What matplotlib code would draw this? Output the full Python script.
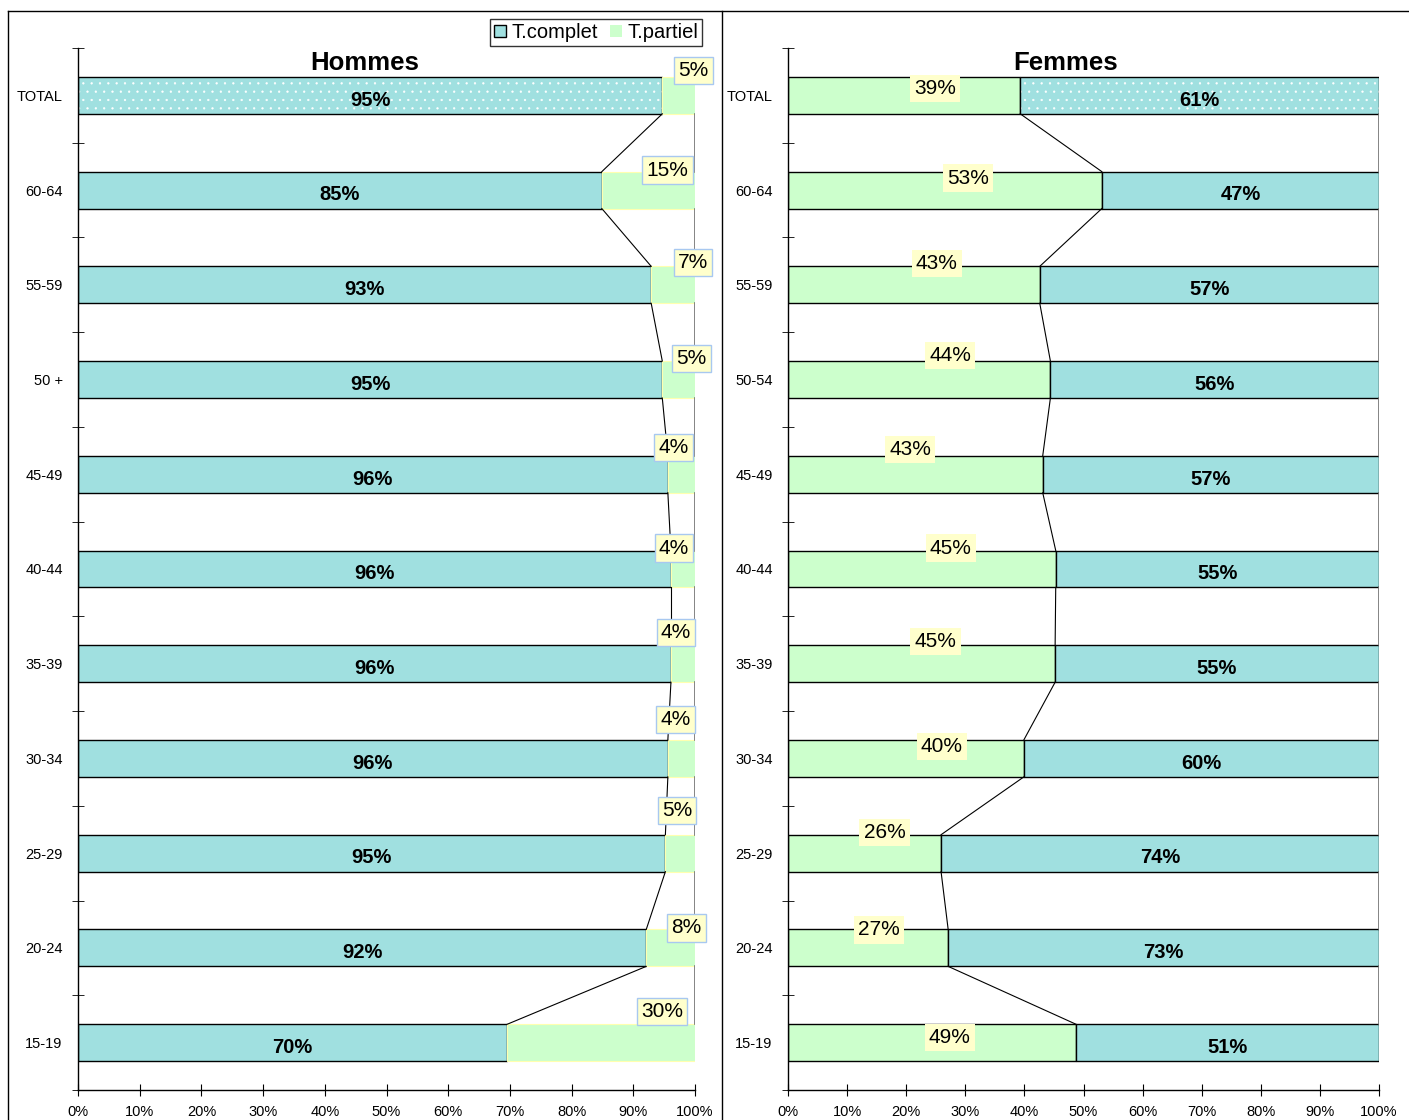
import numpy as np
import matplotlib.pyplot as plt
from matplotlib.lines import Line2D
from matplotlib.patches import Patch

plt.rcParams['font.family'] = ['Liberation Sans', 'DejaVu Sans']
plt.rcParams['hatch.linewidth'] = 0.4

# data (share of each age group, %)
ages_h = ['TOTAL', '60-64', '55-59', '50 +', '45-49', '40-44', '35-39',
          '30-34', '25-29', '20-24', '15-19']
ages_f = ['TOTAL', '60-64', '55-59', '50-54', '45-49', '40-44', '35-39',
          '30-34', '25-29', '20-24', '15-19']

h_complet = [94.7, 84.9, 92.9, 94.7, 95.6, 96.1, 96.1, 95.6, 95.2, 92.1, 69.6]
h_partiel = [5.3, 15.1, 7.1, 5.3, 4.4, 3.9, 3.9, 4.4, 4.8, 7.9, 30.4]

f_partiel = [39.3, 53.1, 42.6, 44.4, 43.1, 45.3, 45.2, 39.9, 25.9, 27.1, 48.7]
f_complet = [60.7, 46.9, 57.4, 55.6, 56.9, 54.7, 54.8, 60.1, 74.1, 72.9, 51.3]

xticks = np.arange(0, 101, 10)
xtick_labels = ['%d%%' % v for v in xticks]

# label nudges in pixels (dx, dy) for the T.partiel labels
nudge_h = [(15, 25), (19, 20), (20, 22), (13, 21), (-8, 27), (-9, 21),
           (-7, 31), (-6, 39), (-3, 43), (16, 20), (61, 31)]
nudge_f = [(31, 7), (23, 12), (23, 21), (31, 24), (-5, 25), (29, 21),
           (14, 22), (36, 12), (20, 21), (11, 18), (18, 5)]

c_complet = '#a0e0e0'
c_partiel = '#ccffcc'
c_box = '#ffffcc'
bh = 0.39

W, H = 1409, 1120
fig = plt.figure(figsize=(W / 100, H / 100), dpi=100)

ax_h = fig.add_axes([78 / W, 1 - 1090 / H, 617 / W, 1042 / H])
ax_f = fig.add_axes([788 / W, 1 - 1090 / H, 591 / W, 1042 / H])


def style_axes(ax, labels):
    n = len(labels)
    ax.set_xlim(0, 100)
    ax.set_ylim(n - 0.5, -0.5)
    for s in ['top', 'right']:
        ax.spines[s].set_visible(False)
    ax.spines['left'].set_linewidth(1.0)
    ax.spines['bottom'].set_linewidth(1.0)
    ax.set_yticks(np.arange(n))
    ax.set_yticklabels(labels, fontsize=10.5)
    ax.tick_params(axis='y', which='major', length=0, pad=11)
    ax.set_yticks(np.arange(n + 1) - 0.5, minor=True)
    ax.tick_params(axis='y', which='minor', direction='inout', length=8)
    ax.set_xticks(xticks)
    ax.set_xticklabels(xtick_labels, fontsize=10.5)
    ax.tick_params(axis='x', direction='inout', length=8, pad=7)


y = np.arange(len(ages_h))

# ---- Hommes
for i in y:
    if i == 0:
        ax_h.barh(i, h_complet[i], height=bh, color=c_complet, edgecolor='white',
                  linewidth=0, hatch='..')
        ax_h.barh(i, h_complet[i], height=bh, fill=False, edgecolor='black', linewidth=1)
    else:
        ax_h.barh(i, h_complet[i], height=bh, color=c_complet, edgecolor='black', linewidth=1)
ax_h.barh(y, h_partiel, left=h_complet, height=bh, color=c_partiel,
          edgecolor='#ffffb0', linewidth=0.8)

for i in range(len(y) - 1):
    ax_h.plot([h_complet[i], h_complet[i + 1]], [i + bh / 2, i + 1 - bh / 2],
              color='black', lw=0.8)
    ax_h.plot([100, 100], [i + bh / 2, i + 1 - bh / 2], color='#707070', lw=1.2)

for i in y:
    ax_h.text(h_complet[i] / 2, i + 0.05, '%d%%' % round(h_complet[i]),
              ha='center', va='center', fontsize=14.5, fontweight='bold')
    ax_h.annotate('%d%%' % round(h_partiel[i]),
                  xy=(h_complet[i] + h_partiel[i] / 2, i),
                  xytext=nudge_h[i], textcoords='offset pixels',
                  ha='center', va='center', fontsize=15,
                  bbox=dict(boxstyle='square,pad=0.2', fc=c_box, ec='#a8c8f0', lw=1))

style_axes(ax_h, ages_h)

# ---- Femmes
ax_f.barh(y, f_partiel, height=bh, color=c_partiel, edgecolor='black', linewidth=1)
for i in y:
    if i == 0:
        ax_f.barh(i, f_complet[i], left=f_partiel[i], height=bh, color=c_complet,
                  edgecolor='white', linewidth=0, hatch='..')
        ax_f.barh(i, f_complet[i], left=f_partiel[i], height=bh, fill=False,
                  edgecolor='black', linewidth=1)
    else:
        ax_f.barh(i, f_complet[i], left=f_partiel[i], height=bh, color=c_complet,
                  edgecolor='black', linewidth=1)

for i in range(len(y) - 1):
    ax_f.plot([f_partiel[i], f_partiel[i + 1]], [i + bh / 2, i + 1 - bh / 2],
              color='black', lw=0.8)
    ax_f.plot([100, 100], [i + bh / 2, i + 1 - bh / 2], color='#707070', lw=1.2)

for i in y:
    ax_f.text(f_partiel[i] + f_complet[i] / 2, i + 0.05, '%d%%' % round(f_complet[i]),
              ha='center', va='center', fontsize=14.5, fontweight='bold')
    ax_f.annotate('%d%%' % round(f_partiel[i]),
                  xy=(f_partiel[i] / 2, i),
                  xytext=nudge_f[i], textcoords='offset pixels',
                  ha='center', va='center', fontsize=15,
                  bbox=dict(boxstyle='square,pad=0.2', fc=c_box, ec='none'))

style_axes(ax_f, ages_f)

# titles
fig.text(365 / W, 1 - 63 / H, 'Hommes', ha='center', va='center',
         fontsize=18.5, fontweight='bold')
fig.text(1066 / W, 1 - 63 / H, 'Femmes', ha='center', va='center',
         fontsize=18.5, fontweight='bold')

# legend
handles = [Patch(facecolor=c_complet, edgecolor='black', linewidth=1),
           Patch(facecolor=c_partiel, edgecolor='none')]
leg = fig.legend(handles, ['T.complet', 'T.partiel'], loc='upper right',
                 bbox_to_anchor=(702 / W, 1 - 19 / H), ncol=2, fontsize=14.5,
                 frameon=True, fancybox=False, borderpad=0.2, handlelength=0.6,
                 handleheight=0.6, handletextpad=0.25, columnspacing=0.6,
                 borderaxespad=0)
leg.get_frame().set_edgecolor('black')
leg.get_frame().set_linewidth(1)

# chart frames
fig.add_artist(Line2D([8 / W, 8 / W], [0, 1 - 11 / H], color='black', lw=1))
fig.add_artist(Line2D([8 / W, 1], [1 - 11 / H, 1 - 11 / H], color='black', lw=1))
fig.add_artist(Line2D([722 / W, 722 / W], [0, 1 - 11 / H], color='black', lw=1))

fig.savefig('out.png', dpi=100)
